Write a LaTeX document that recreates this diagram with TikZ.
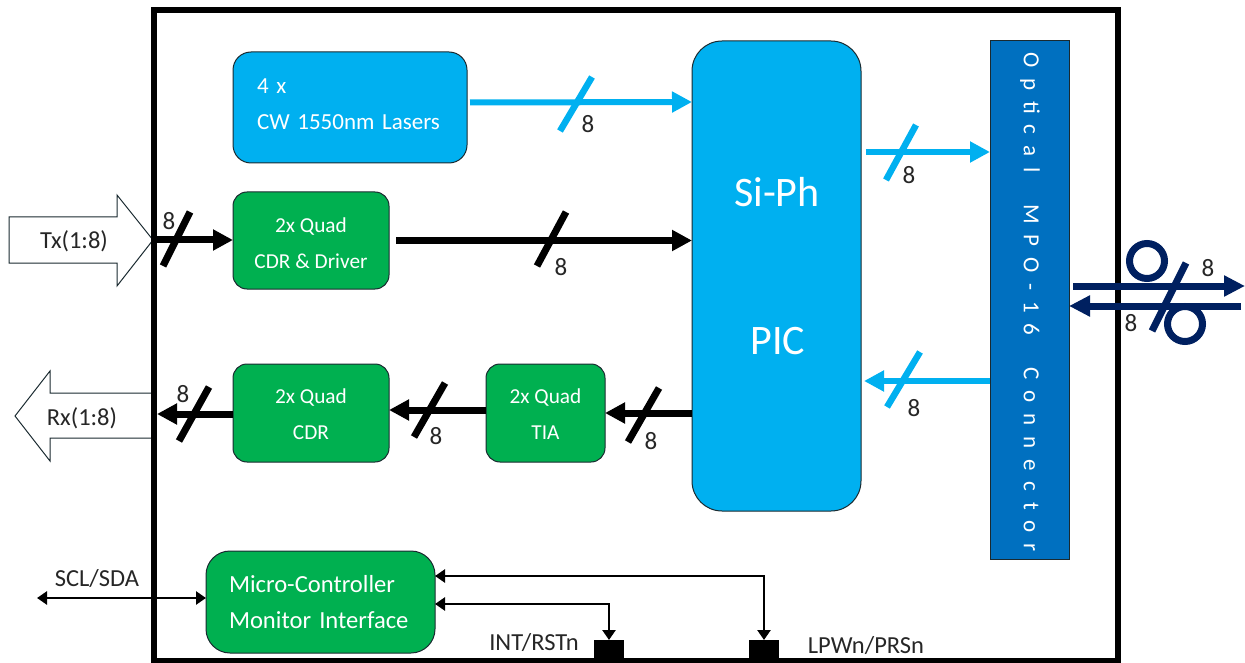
\documentclass[tikz,border=0pt]{standalone}
\usepackage{fontspec}
\setmainfont{Carlito}
\newfontfamily\spaced[LetterSpace=47]{Carlito}
\usetikzlibrary{arrows.meta,calc}
\definecolor{skyb}{HTML}{00B0F0}
\definecolor{grn}{HTML}{00B050}
\definecolor{conb}{HTML}{0070C0}
\definecolor{navy}{HTML}{002060}
\definecolor{edge}{HTML}{1A2A30}
\newcommand{\topstrut}[1]{\rule{0pt}{#1pt}}
\newcommand{\botstrut}[1]{\rule[-#1pt]{0pt}{#1pt}}
\tikzset{
  x=1pt,y=-1pt,
  box/.style={draw=edge,line width=1pt,text=white,align=center,inner sep=0pt,outer sep=0pt,anchor=north west},
  greenbox/.style={box,fill=grn,rounded corners=14pt,font=\fontsize{21.3}{36}\selectfont},
  bluebox/.style={box,fill=skyb},
  blk/.style={line width=7pt,black,-{Triangle[length=20pt,width=20pt]}},
  sky/.style={line width=6pt,skyb,-{Triangle[length=20pt,width=20pt]}},
  nv/.style={line width=7pt,navy,-{Triangle[length=21pt,width=20pt]}},
  thinblk/.style={line width=2.5pt,black,{Triangle[length=10pt,width=13pt]}-{Triangle[length=10pt,width=13pt]}},
  slash/.style={line width=7pt,black},
  skyslash/.style={line width=6.5pt,skyb},
  nvslash/.style={line width=7pt,navy},
  num/.style={font=\fontsize{25}{27}\selectfont,text=black!85,inner sep=0pt},
  lab/.style={font=\fontsize{24.5}{27}\selectfont,text=black!85,inner sep=0pt},
  hollow/.style={draw=edge,line width=1pt,fill=white},
  pad/.style={fill=black,inner sep=0pt,outer sep=0pt,minimum width=30pt,minimum height=22pt,anchor=north west},
}
\begin{document}
\begin{tikzpicture}
\useasboundingbox (0,0) rectangle (1245,663);
% port arrows
\draw[hollow] (9,217) -- (117,217) -- (117,195) -- (153,240) -- (117,286) -- (117,263) -- (9,263) -- cycle;
\draw[hollow] (153,393) -- (50,393) -- (50,371) -- (15,416) -- (50,461) -- (50,438) -- (153,438) -- cycle;
\node[lab] (tx) at (74,241) {Tx(1:8)};
\node[lab] (rx) at (82,418) {Rx(1:8)};
% module frame
\node[draw=black,line width=6pt,inner sep=0pt,outer sep=0pt,minimum width=964pt,minimum height=651pt,anchor=north west] (frame) at (153.5,10) {};
% blocks
\node[bluebox,rounded corners=18pt,minimum width=234pt,minimum height=111pt,text width=186pt,align=left,font=\fontsize{23}{36}\selectfont] (lasers) at (233,52) {4 x\\CW 1550nm Lasers\botstrut{7}};
\node[bluebox,rounded corners=30pt,minimum width=169pt,minimum height=470pt] (si) at (692,41) {};
\node[font=\fontsize{42}{44}\selectfont,text=white,inner sep=0pt] (siph) at (777,192) {Si-Ph};
\node[font=\fontsize{42}{44}\selectfont,text=white,inner sep=0pt] (pic) at (778,341) {PIC};
\node[greenbox,minimum width=156pt,minimum height=97pt] (cdrd) at (233,192) {\topstrut{20}2x Quad\\CDR \& Driver};
\node[greenbox,minimum width=156pt,minimum height=98pt] (cdr) at (233,364) {\topstrut{17}2x Quad\\CDR};
\node[greenbox,minimum width=119pt,minimum height=98pt] (tia) at (486,364) {\topstrut{17}2x Quad\\TIA};
\node[greenbox,rounded corners=24pt,minimum width=229pt,minimum height=102pt,text width=183pt,align=left,font=\fontsize{24.6}{36}\selectfont] (mcu) at (206,551) {Micro-Controller\\Monitor Interface};
\node[fill=conb,draw=edge,line width=.8pt,inner sep=0pt,outer sep=0pt,minimum width=79pt,minimum height=519pt,anchor=north west] (conn) at (990,40) {};
\node[rotate=-90,text=white,inner sep=0pt,font=\spaced\fontsize{23}{25}\selectfont] (connlab) at (1030,302) {Optical\ \ MPO-16\ \ Connector};
\node[pad] (p1) at (594,640) {};
\node[pad] (p2) at (749,640) {};
% free ends
\coordinate (fl) at (37,598);
\coordinate (lout) at (157,414);
\coordinate (txin) at (155,240);
\coordinate (r1) at (1073,286);
\coordinate (r2) at (1245,286);
\coordinate (r3) at (1241,306);
% black buses
\draw[blk] (txin) -- (cdrd.west |- txin);
\draw[blk] ([xshift=7pt]cdrd.east) -- (cdrd.east -| si.west);
\draw[blk] (si.west |- 0,413) -- (tia.east |- 0,413);
\draw[blk] (tia.west |- 0,410) -- (cdr.east |- 0,410);
\draw[blk] (cdr.west |- lout) -- (lout);
% blue buses
\draw[sky] ($(lasers.east)+(3,-5)$) -- (si.west |- 0,102);
\draw[sky] (si.east |- 0,152) ++(5,0) -- (conn.west |- 0,152);
\draw[sky] (conn.west |- 0,381) -- ($(si.east |- 0,381)+(3,0)$);
% slashes
\draw[slash] (163,266) -- (190,212);
\draw[slash] (537,266) -- (566,212);
\draw[slash] (628,442) -- (659,388);
\draw[slash] (414,437) -- (445,383);
\draw[slash] (179,441) -- (209,387);
\draw[skyslash] (560,131) -- (592,77);
\draw[skyslash] (886,180) -- (916,125);
\draw[skyslash] (887,407) -- (920,352);
% numbers
\node[num] (n1) at (169,221) {8};
\node[num] (n2) at (561,267) {8};
\node[num] (n3) at (588,124) {8};
\node[num] (n4) at (909,175) {8};
\node[num] (n5) at (914,408) {8};
\node[num] (n6) at (651,441) {8};
\node[num] (n7) at (436,436) {8};
\node[num] (n8) at (183,394) {8};
\node[num] (n9) at (1208,268) {8};
\node[num] (n10) at (1131,323) {8};
% fibre
\draw[nv] (r1) -- (r2);
\draw[nv] (r3) -- (conn.east |- r3);
\draw[nvslash] (1152,331) -- (1186,263);
\node[circle,draw=navy,line width=7pt,minimum size=35pt,inner sep=0pt] (c1) at (1147,261) {};
\node[circle,draw=navy,line width=7pt,minimum size=35pt,inner sep=0pt] (c2) at (1185,324) {};
% control lines
\draw[thinblk] (fl) -- (mcu.west |- fl);
\draw[thinblk] (mcu.east |- 0,604) -| (p1.north);
\draw[thinblk] (mcu.east |- 0,576) -| (p2.north);
\node[lab] (scl) at (97,579) {SCL/SDA};
\node[lab] (int) at (534,643) {INT/RSTn};
\node[lab] (lpw) at (866,646) {LPWn/PRSn};
\end{tikzpicture}
\end{document}
